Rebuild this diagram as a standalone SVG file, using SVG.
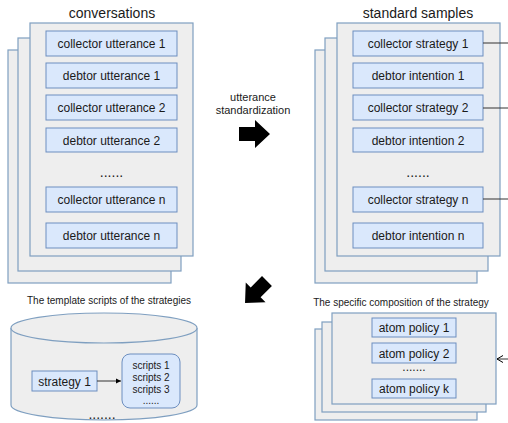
<svg xmlns="http://www.w3.org/2000/svg" width="508" height="423" viewBox="0 0 508 423">
<defs>
<style>
.page{fill:#eeeeee;stroke:#7f9fc0;stroke-width:1.2}
.box{fill:#dae8fc;stroke:#6c8ebf;stroke-width:1}
text{font-family:"Liberation Sans",Arial,sans-serif;fill:#1a1a1a;text-anchor:middle}
.t12{font-size:12px}
.t14{font-size:14px}
.t10{font-size:10px}
.t11{font-size:11px}
.conn{stroke:#333;stroke-width:1;fill:none}
</style>
<marker id="tri" markerWidth="6" markerHeight="6" refX="5" refY="3" orient="auto" markerUnits="userSpaceOnUse">
<path d="M0,0.5 L5,3 L0,5.5 Z" fill="#000"/>
</marker>
<marker id="open" markerWidth="8" markerHeight="8" refX="6.5" refY="4" orient="auto" markerUnits="userSpaceOnUse">
<path d="M0.5,0.5 L6.5,4 L0.5,7.5" fill="none" stroke="#000" stroke-width="1"/>
</marker>
</defs>
<rect width="508" height="423" fill="#ffffff"/>

<g id="conversations">
<text class="t14" x="112" y="18">conversations</text>
<rect class="page" x="8" y="50" width="163" height="233"/>
<rect class="page" x="18" y="38" width="163" height="233"/>
<rect class="page" x="30" y="23" width="163" height="233"/>
<rect class="box" x="46" y="31" width="131" height="25"/>
<text class="t12" x="111.5" y="48">collector utterance 1</text>
<rect class="box" x="46" y="63" width="131" height="25"/>
<text class="t12" x="111.5" y="80">debtor utterance 1</text>
<rect class="box" x="46" y="95" width="131" height="25"/>
<text class="t12" x="111.5" y="112">collector utterance 2</text>
<rect class="box" x="46" y="128" width="131" height="24"/>
<text class="t12" x="111.5" y="145">debtor utterance 2</text>
<text class="t14" x="111.5" y="177">......</text>
<rect class="box" x="46" y="187" width="131" height="25"/>
<text class="t12" x="111.5" y="204">collector utterance n</text>
<rect class="box" x="46" y="223" width="131" height="25"/>
<text class="t12" x="111.5" y="240">debtor utterance n</text>
</g>

<g id="standard-samples">
<text class="t14" x="418" y="18">standard samples</text>
<rect class="page" x="315" y="50" width="162" height="233"/>
<rect class="page" x="325" y="38" width="163" height="233"/>
<rect class="page" x="337" y="23" width="163" height="233"/>
<rect class="box" x="353" y="31" width="130" height="25"/>
<text class="t12" x="418" y="48">collector strategy 1</text>
<rect class="box" x="353" y="63" width="130" height="25"/>
<text class="t12" x="418" y="80">debtor intention 1</text>
<rect class="box" x="353" y="95" width="130" height="25"/>
<text class="t12" x="418" y="112">collector strategy 2</text>
<rect class="box" x="353" y="128" width="130" height="24"/>
<text class="t12" x="418" y="145">debtor intention 2</text>
<text class="t14" x="418" y="177">......</text>
<rect class="box" x="353" y="187" width="130" height="25"/>
<text class="t12" x="418" y="204">collector strategy n</text>
<rect class="box" x="353" y="223" width="130" height="25"/>
<text class="t12" x="418" y="240">debtor intention n</text>
</g>

<g id="standardization-arrow">
<text class="t11" x="253" y="101">utterance</text>
<text class="t11" x="253" y="114">standardization</text>
<path d="M239,127 L255,127 L255,120 L270,134 L255,148 L255,141 L239,141 Z" fill="#000"/>
</g>

<g id="down-arrow">
<path transform="rotate(135 256 292)" d="M240.5,285 L256.5,285 L256.5,278 L271.5,292 L256.5,306 L256.5,299 L240.5,299 Z" fill="#000"/>
</g>

<g id="template-scripts">
<text class="t10" x="109" y="304">The template scripts of the strategies</text>
<path class="page" d="M11,328 L11,405 A93,15 0 0 0 197,405 L197,328"/>
<ellipse class="page" cx="104" cy="328" rx="93" ry="15"/>
<text class="t14" x="102" y="419">.......</text>
</g>

<g id="strategy-1">
<rect class="box" x="32" y="371" width="65" height="20"/>
<text class="t12" x="64.5" y="385.5">strategy 1</text>
</g>

<g id="scripts">
<rect class="box" x="122" y="354" width="58" height="54" rx="8"/>
<text class="t10" x="151" y="369">scripts 1</text>
<text class="t10" x="151" y="381">scripts 2</text>
<text class="t10" x="151" y="393">scripts 3</text>
<text class="t10" x="151" y="404">......</text>
</g>

<g id="composition">
<text class="t10" x="401" y="306">The specific composition of the strategy</text>
<rect class="page" x="315" y="329" width="162" height="91"/>
<rect class="page" x="322" y="322" width="164" height="90"/>
<rect class="page" x="332" y="313" width="164" height="91"/>
<rect class="box" x="372" y="318" width="84" height="19"/>
<text class="t12" x="414" y="332">atom policy 1</text>
<rect class="box" x="372" y="343" width="84" height="20"/>
<text class="t12" x="414" y="357.5">atom policy 2</text>
<text class="t12" x="414" y="371">.......</text>
<rect class="box" x="372" y="379" width="84" height="19"/>
<text class="t12" x="414" y="393">atom policy k</text>
</g>

<g id="connectors">
<line class="conn" x1="483" y1="43" x2="508" y2="43"/>
<line class="conn" x1="483" y1="108" x2="508" y2="108" stroke="#999"/>
<line class="conn" x1="483" y1="199" x2="508" y2="199"/>
<line class="conn" x1="97" y1="381" x2="121" y2="381" marker-end="url(#tri)"/>
<line class="conn" x1="508" y1="359" x2="497" y2="359" marker-end="url(#open)"/>
</g>
</svg>
